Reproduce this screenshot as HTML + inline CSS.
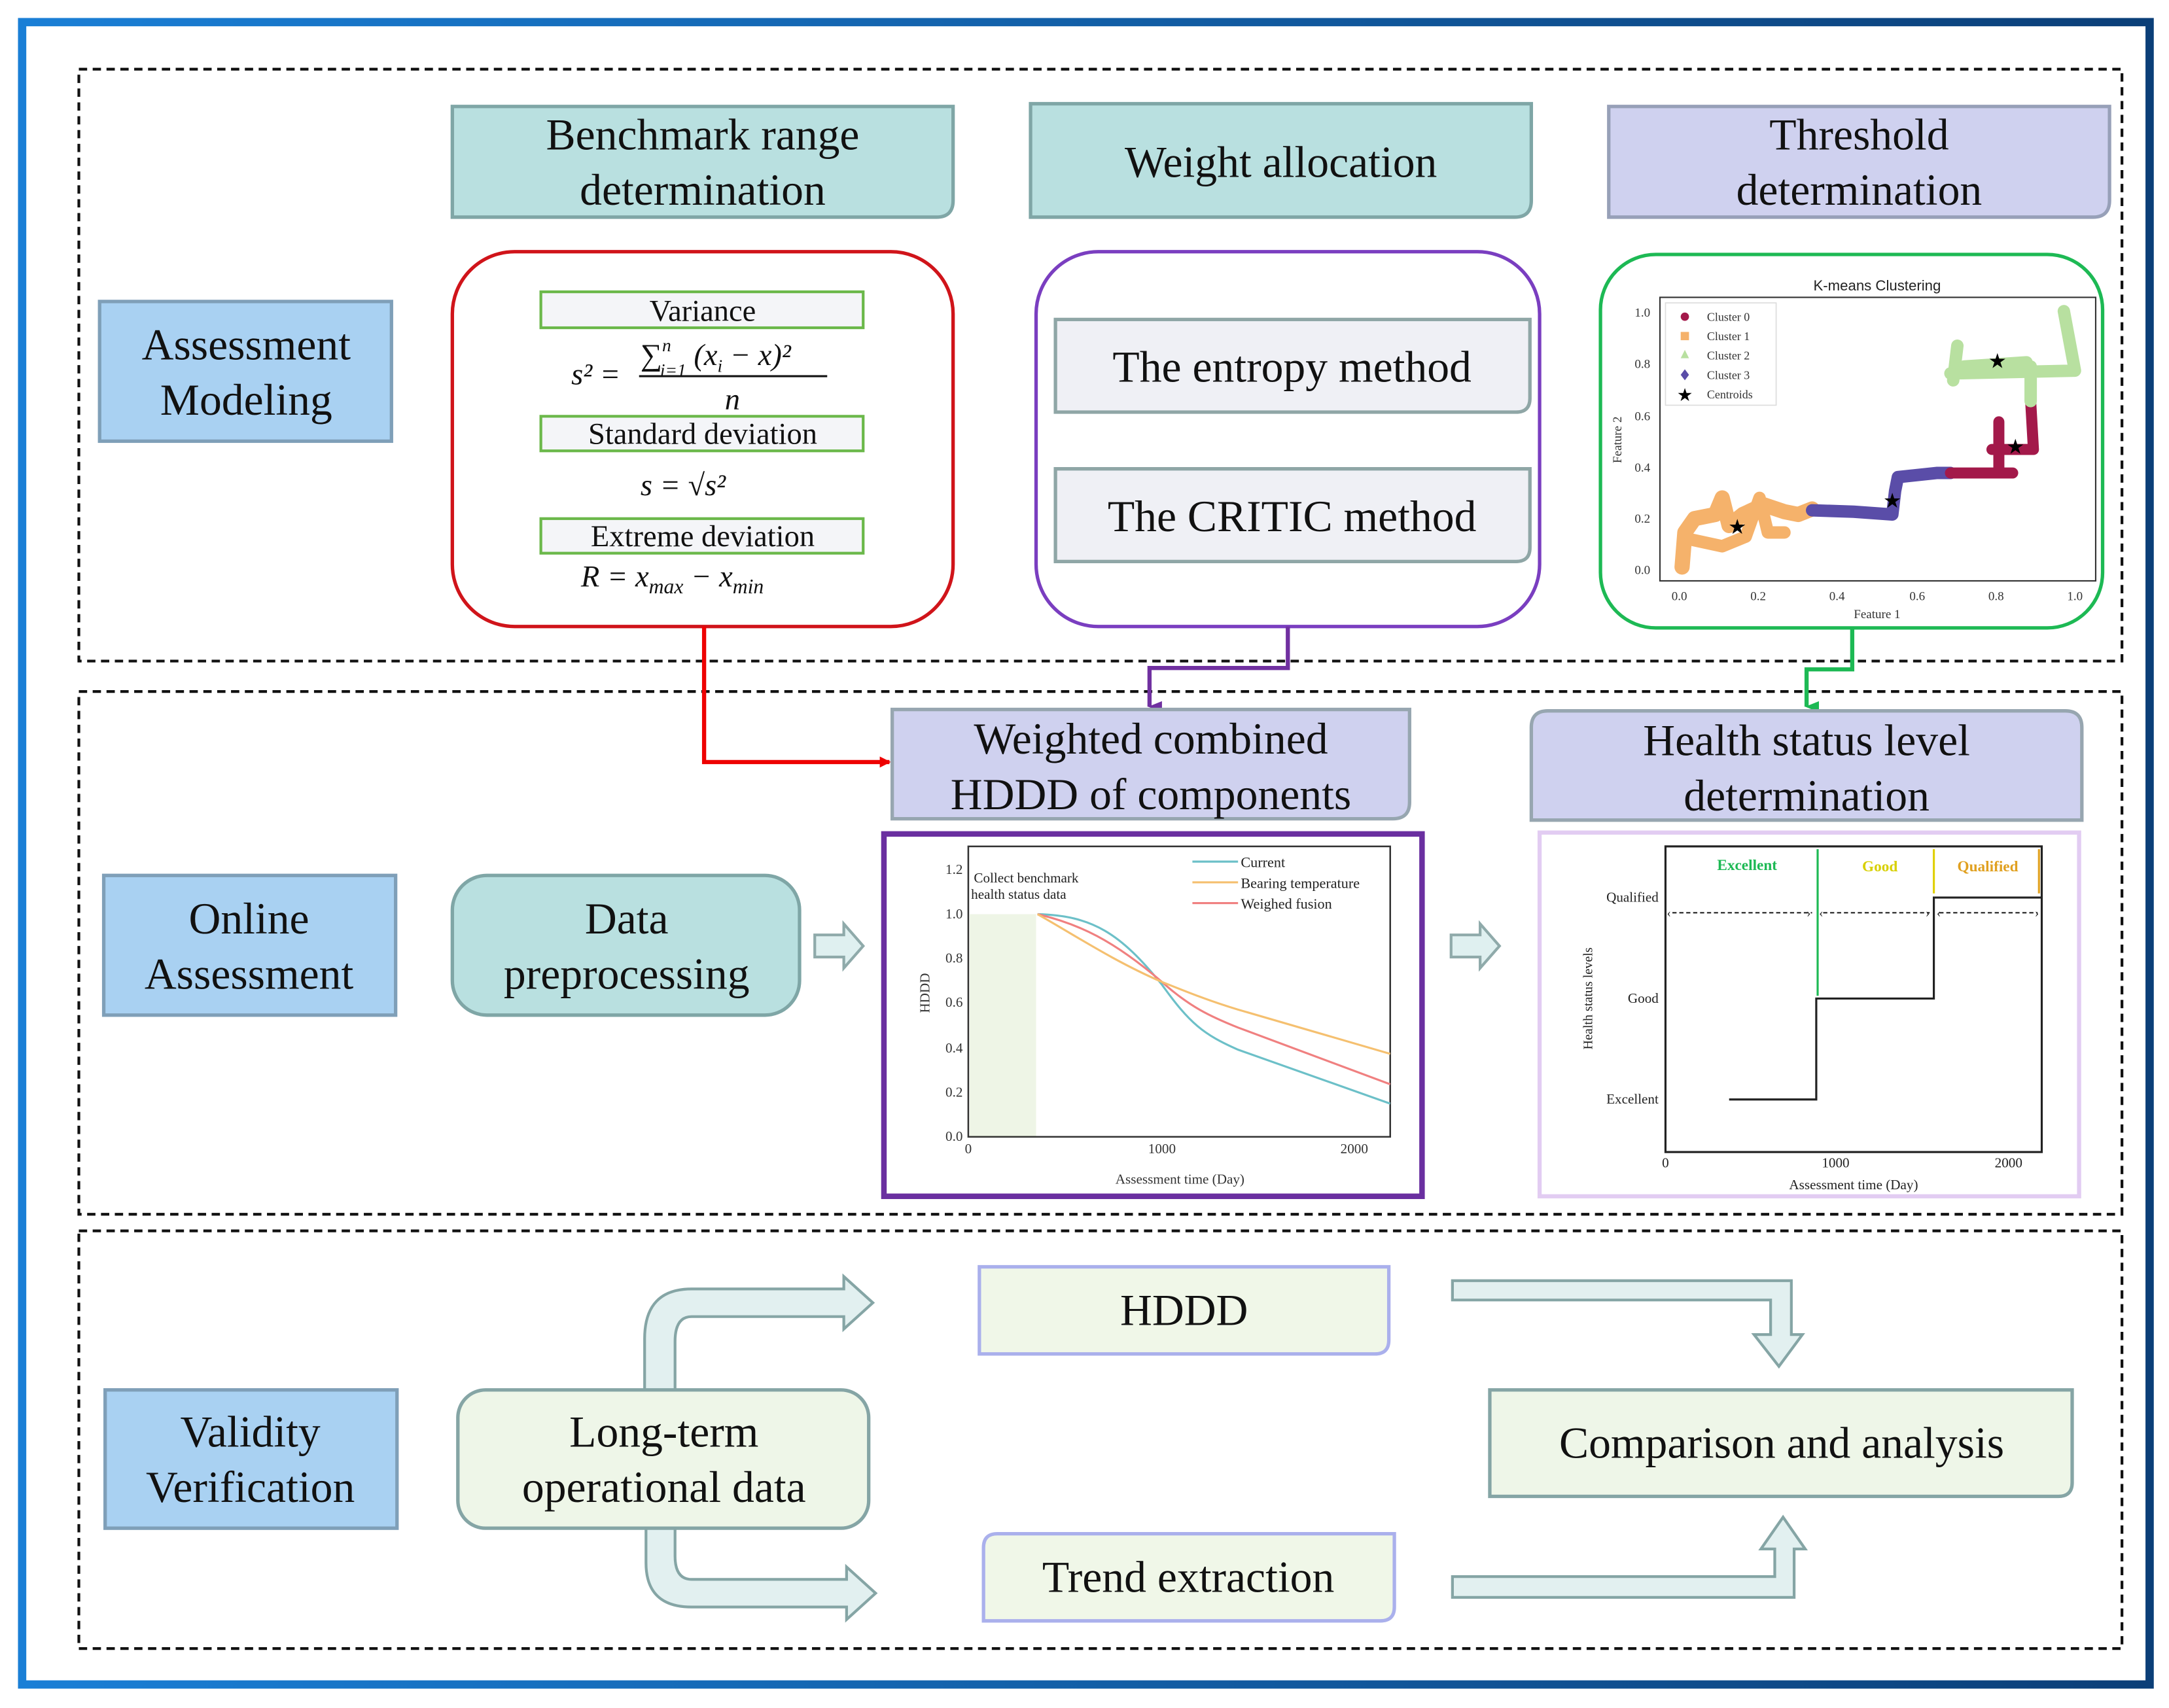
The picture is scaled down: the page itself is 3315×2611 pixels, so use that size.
<!DOCTYPE html>
<html><head><meta charset="utf-8"><style>
html,body{margin:0;padding:0;background:#fff;}
svg{display:block;}
text{font-family:"Liberation Serif",serif;}
.s{font-family:"Liberation Sans",sans-serif;}
</style></head><body>
<svg width="3315" height="2611" viewBox="0 0 1568 1235" preserveAspectRatio="none" xmlns="http://www.w3.org/2000/svg">
<defs>
<linearGradient id="bl" x1="0" x2="1" y1="0" y2="0"><stop offset="0" stop-color="#1a7fd6"/><stop offset="1" stop-color="#0b3f78"/></linearGradient>
<marker id="ar" markerWidth="8" markerHeight="8" refX="7" refY="4" orient="auto" markerUnits="userSpaceOnUse"><path d="M0,0 L8,4 L0,8z" fill="#e00"/></marker>
<marker id="ap" markerWidth="8" markerHeight="10" refX="4" refY="9" orient="auto" markerUnits="userSpaceOnUse"><path d="M0,0 L4,10 L8,0z" fill="#7030a0"/></marker>
<marker id="ag" markerWidth="8" markerHeight="10" refX="4" refY="9" orient="auto" markerUnits="userSpaceOnUse"><path d="M0,0 L4,10 L8,0z" fill="#1db954"/></marker>
</defs>
<rect x="0" y="0" width="1568" height="1235" fill="#fff"/>
<rect x="16" y="16" width="1538" height="1202" fill="none" stroke="url(#bl)" stroke-width="6"/>
<g fill="none" stroke="#111" stroke-width="2" stroke-dasharray="6,4">
<rect x="57" y="50" width="1477" height="428"/>
<rect x="57" y="500" width="1477" height="378"/>
<rect x="57" y="890" width="1477" height="302"/>
</g>
<g fill="#a9d1f2" stroke="#7f9fb8" stroke-width="2.5">
<rect x="72" y="218" width="211" height="101"/>
<rect x="75" y="633" width="211" height="101"/>
<rect x="76" y="1005" width="211" height="100"/>
</g>
<g font-size="32" text-anchor="middle" fill="#111">
<text x="178" y="260">Assessment</text><text x="178" y="300">Modeling</text>
<text x="180" y="675">Online</text><text x="180" y="715">Assessment</text>
<text x="181" y="1046">Validity</text><text x="181" y="1086">Verification</text>
</g>
<g stroke="#7fa6a6" stroke-width="2.5">
<path d="M327,77 H689 V145 Q689,157 677,157 H327z" fill="#b9e0e0"/>
<path d="M745,75 H1107 V145 Q1107,157 1095,157 H745z" fill="#b9e0e0"/>
<path d="M1163,77 H1525 V145 Q1525,157 1513,157 H1163z" fill="#cfd1ef" stroke="#97a0b8"/>
</g>
<g font-size="32" text-anchor="middle" fill="#111">
<text x="508" y="108">Benchmark range</text><text x="508" y="148">determination</text>
<text x="926" y="128">Weight allocation</text>
<text x="1344" y="108">Threshold</text><text x="1344" y="148">determination</text>
</g>
<rect x="327" y="182" width="362" height="271" rx="45" fill="#fff" stroke="#d0141a" stroke-width="2.5"/>
<g fill="#f4f5f8" stroke="#6bb84a" stroke-width="2">
<rect x="391" y="211" width="233" height="26"/>
<rect x="391" y="301" width="233" height="25"/>
<rect x="391" y="375" width="233" height="25"/>
</g>
<g font-size="22" text-anchor="middle" fill="#111">
<text x="508" y="232">Variance</text>
<text x="508" y="321">Standard deviation</text>
<text x="508" y="395">Extreme deviation</text>
</g>
<g font-size="22" fill="#111" font-style="italic">
<text x="413" y="278">s² =</text>
<text x="463" y="264">∑<tspan font-size="13" dy="-10">n</tspan><tspan font-size="13" dx="-8" dy="18">i=1</tspan><tspan dy="-8"> (x</tspan><tspan font-size="13" dy="5">i</tspan><tspan dy="-5"> − x)²</tspan></text>
<line x1="462" y1="272" x2="598" y2="272" stroke="#111" stroke-width="1.5"/>
<text x="524" y="296">n</text>
<text x="463" y="358">s = √s²</text>
<text x="420" y="424">R = x<tspan font-size="15" dy="5">max</tspan><tspan dy="-5"> − x</tspan><tspan font-size="15" dy="5">min</tspan></text>
</g>
<rect x="749" y="182" width="364" height="271" rx="45" fill="#fff" stroke="#7a3ec0" stroke-width="2.5"/>
<g fill="#eff0f5" stroke="#8fa6a6" stroke-width="2.5">
<path d="M763,231 H1106 V288 Q1106,298 1096,298 H763z"/>
<path d="M763,339 H1106 V396 Q1106,406 1096,406 H763z"/>
</g>
<g font-size="32" text-anchor="middle" fill="#111">
<text x="934" y="276">The entropy method</text>
<text x="934" y="384">The CRITIC method</text>
</g>
<rect x="1157" y="184" width="363" height="270" rx="40" fill="#fff" stroke="#1db954" stroke-width="2.5"/>
<text class="s" x="1357" y="210" font-size="10.5" text-anchor="middle" fill="#222">K-means Clustering</text>
<rect x="1200" y="215" width="315" height="205" fill="none" stroke="#333" stroke-width="1"/>
<g class="s" font-size="9" fill="#333" text-anchor="end">
<text x="1193" y="229">1.0</text><text x="1193" y="266">0.8</text><text x="1193" y="304">0.6</text><text x="1193" y="341">0.4</text><text x="1193" y="378">0.2</text><text x="1193" y="415">0.0</text>
</g>
<g class="s" font-size="9" fill="#333" text-anchor="middle">
<text x="1214" y="434">0.0</text><text x="1271" y="434">0.2</text><text x="1328" y="434">0.4</text><text x="1386" y="434">0.6</text><text x="1443" y="434">0.8</text><text x="1500" y="434">1.0</text>
<text x="1357" y="447">Feature 1</text>
<text transform="translate(1172,318) rotate(-90)">Feature 2</text>
</g>
<g fill="none" stroke-linecap="round" stroke-linejoin="round">
<path d="M1216,410 L1218,385 L1225,375 L1240,372 L1245,360 L1250,380 L1260,372 L1275,365 L1290,370 L1300,372 L1310,368" stroke="#f5b26b" stroke-width="11"/>
<path d="M1222,390 L1245,395 L1262,388 L1272,360 L1278,385 L1290,385" stroke="#f5b26b" stroke-width="9"/>
<path d="M1310,369 L1340,370 L1368,372 L1370,355 L1372,345 L1400,342 L1410,342" stroke="#5a4da8" stroke-width="9"/>
<path d="M1410,342 L1455,342 M1445,342 L1445,305 M1440,325 L1470,325 L1468,290" stroke="#a3194a" stroke-width="8"/>
<path d="M1468,290 L1468,265 M1412,275 L1415,250 M1410,270 L1500,268 L1492,225 M1420,265 L1465,262" stroke="#b8e0a0" stroke-width="9"/>
</g>
<g font-size="15" text-anchor="middle" fill="#000">
<text x="1444" y="266">★</text><text x="1457" y="328">★</text><text x="1368" y="367">★</text><text x="1256" y="386">★</text>
</g>
<rect x="1204" y="219" width="80" height="74" fill="#fff" stroke="#ddd" stroke-width="0.8"/>
<g class="s" font-size="8.5" fill="#333">
<circle cx="1218" cy="229" r="3" fill="#a3194a"/><text x="1234" y="232">Cluster 0</text>
<rect x="1215" y="240" width="6" height="6" fill="#f5b26b"/><text x="1234" y="246">Cluster 1</text>
<path d="M1218,253 L1221,259 L1215,259z" fill="#b8e0a0"/><text x="1234" y="260">Cluster 2</text>
<path d="M1218,267 L1221,271 L1218,275 L1215,271z" fill="#5a4da8"/><text x="1234" y="274">Cluster 3</text>
<text x="1218" y="290" font-size="13" text-anchor="middle" fill="#000">★</text><text x="1234" y="288">Centroids</text>
</g>
<path d="M509,453 V551 H643" fill="none" stroke="#e00" stroke-width="3" marker-end="url(#ar)"/>
<path d="M931,453 V483 H831 V511" fill="none" stroke="#7030a0" stroke-width="3" marker-end="url(#ap)"/>
<path d="M1339,454 V484 H1306 V511" fill="none" stroke="#1db954" stroke-width="3" marker-end="url(#ag)"/>
<path d="M645,513 H1019 V580 Q1019,592 1007,592 H645z" fill="#cfd1ef" stroke="#97a6b0" stroke-width="2.5"/>
<path d="M1107,526 Q1107,514 1119,514 H1493 Q1505,514 1505,526 V593 H1107z" fill="#cfd1ef" stroke="#97a6b0" stroke-width="2.5"/>
<g font-size="32" text-anchor="middle" fill="#111">
<text x="832" y="545">Weighted combined</text><text x="832" y="585">HDDD of components</text>
<text x="1306" y="546">Health status level</text><text x="1306" y="586">determination</text>
</g>
<rect x="327" y="633" width="251" height="101" rx="25" fill="#b9e0e0" stroke="#7fa6a6" stroke-width="2.5"/>
<g font-size="32" text-anchor="middle" fill="#111"><text x="453" y="675">Data</text><text x="453" y="715">preprocessing</text></g>
<g fill="#dff0f0" stroke="#8faaaa" stroke-width="2">
<path d="M589,676 H610 V668 L624,684 L610,700 V692 H589z"/>
<path d="M1049,676 H1070 V668 L1084,684 L1070,700 V692 H1049z"/>
</g>
<rect x="639" y="603" width="389" height="262" fill="#fff" stroke="#6a2fa0" stroke-width="4"/>
<rect x="701" y="661" width="48" height="161" fill="#eef5e6"/>
<rect x="700" y="612" width="305" height="210" fill="none" stroke="#333" stroke-width="1.2"/>
<g font-size="10" fill="#333" text-anchor="end">
<text x="696" y="632">1.2</text><text x="696" y="664">1.0</text><text x="696" y="696">0.8</text><text x="696" y="728">0.6</text><text x="696" y="761">0.4</text><text x="696" y="793">0.2</text><text x="696" y="825">0.0</text>
</g>
<g font-size="10" fill="#333" text-anchor="middle">
<text x="700" y="834">0</text><text x="840" y="834">1000</text><text x="979" y="834">2000</text>
<text x="853" y="856">Assessment time (Day)</text>
<text transform="translate(672,718) rotate(-90)">HDDD</text>
</g>
<text x="704" y="638" font-size="10" fill="#222">Collect benchmark</text>
<text x="702" y="650" font-size="10" fill="#222">health status data</text>
<g fill="none" stroke-width="1.5">
<path d="M750,661 C790,662 810,675 840,712 C860,740 870,748 895,759 L1005,798" stroke="#6cc0c8"/>
<path d="M750,661 C780,668 805,680 840,710 C860,728 875,735 895,743 L1005,784" stroke="#f08080"/>
<path d="M750,661 C775,675 805,695 840,710 C860,718 875,724 895,730 L1005,762" stroke="#f5c070"/>
<path d="M862,623 H895" stroke="#6cc0c8"/><path d="M862,638 H895" stroke="#f5c070"/><path d="M862,653 H895" stroke="#f08080"/>
</g>
<g font-size="10.5" fill="#222"><text x="897" y="627">Current</text><text x="897" y="642">Bearing temperature</text><text x="897" y="657">Weighed fusion</text></g>
<rect x="1113" y="602" width="390" height="263" fill="#fff" stroke="#e2ccf2" stroke-width="3"/>
<rect x="1204" y="612" width="272" height="221" fill="none" stroke="#222" stroke-width="1.5"/>
<g font-size="10" fill="#222" text-anchor="end"><text x="1199" y="652">Qualified</text><text x="1199" y="725">Good</text><text x="1199" y="798">Excellent</text></g>
<g font-size="10" fill="#222" text-anchor="middle">
<text x="1204" y="844">0</text><text x="1327" y="844">1000</text><text x="1452" y="844">2000</text>
<text x="1340" y="860">Assessment time (Day)</text>
<text transform="translate(1151,722) rotate(-90)" font-size="9.5">Health status levels</text>
</g>
<path d="M1250,795 H1313 V722 H1398 V649 H1476" fill="none" stroke="#222" stroke-width="1.5"/>
<line x1="1314" y1="614" x2="1314" y2="720" stroke="#1db954" stroke-width="1.5"/>
<line x1="1398" y1="614" x2="1398" y2="646" stroke="#e0d000" stroke-width="1.5"/>
<line x1="1474" y1="614" x2="1474" y2="646" stroke="#e0a020" stroke-width="1.5"/>
<g font-size="11" font-weight="bold" text-anchor="middle"><text x="1263" y="629" fill="#1db954">Excellent</text><text x="1359" y="630" fill="#d8d000">Good</text><text x="1437" y="630" fill="#e0a020">Qualified</text></g>
<g stroke="#222" stroke-width="1" stroke-dasharray="3,2" fill="none"><path d="M1209,660 H1310 M1318,660 H1395 M1402,660 H1473"/></g>
<g font-size="9" fill="#222"><text x="1205" y="663">‹</text><text x="1306" y="663">›</text><text x="1315" y="663">‹</text><text x="1392" y="663">›</text><text x="1400" y="663">‹</text><text x="1471" y="663">›</text></g>
<g fill="#e2f0f0" stroke="#85a5a5" stroke-width="2">
<path d="M466,1005 V968 Q466,932 500,932 H610 V923 L631,942 L610,961 V952 H500 Q488,952 488,970 V1005z"/>
<path d="M467,1105 V1130 Q467,1162 500,1162 H612 V1171 L633,1152 L612,1133 V1142 H500 Q488,1142 488,1125 V1105z"/>
<path d="M1050,926 H1295 V965 H1303 L1286,988 L1268,965 H1280 V940 H1050z"/>
<path d="M1050,1155 H1297 V1120 H1305 L1289,1097 L1273,1120 H1283 V1140 H1050z"/>
</g>
<path d="M708,916 H1004 V969 Q1004,979 994,979 H708z" fill="#f0f7e8" stroke="#aab0ec" stroke-width="2.5"/>
<path d="M721,1109 H1008 V1162 Q1008,1172 998,1172 H711 V1119 Q711,1109 721,1109z" fill="#f0f7e8" stroke="#aab0ec" stroke-width="2.5"/>
<rect x="331" y="1005" width="297" height="100" rx="20" fill="#eef6e8" stroke="#85a5a5" stroke-width="2.5"/>
<path d="M1077,1005 H1498 V1072 Q1498,1082 1488,1082 H1077z" fill="#eef6e8" stroke="#85a5a5" stroke-width="2.5"/>
<g font-size="32" text-anchor="middle" fill="#111">
<text x="856" y="958">HDDD</text>
<text x="859" y="1151">Trend extraction</text>
<text x="480" y="1046">Long-term</text><text x="480" y="1086">operational data</text>
<text x="1288" y="1054">Comparison and analysis</text>
</g>
</svg>
</body></html>
